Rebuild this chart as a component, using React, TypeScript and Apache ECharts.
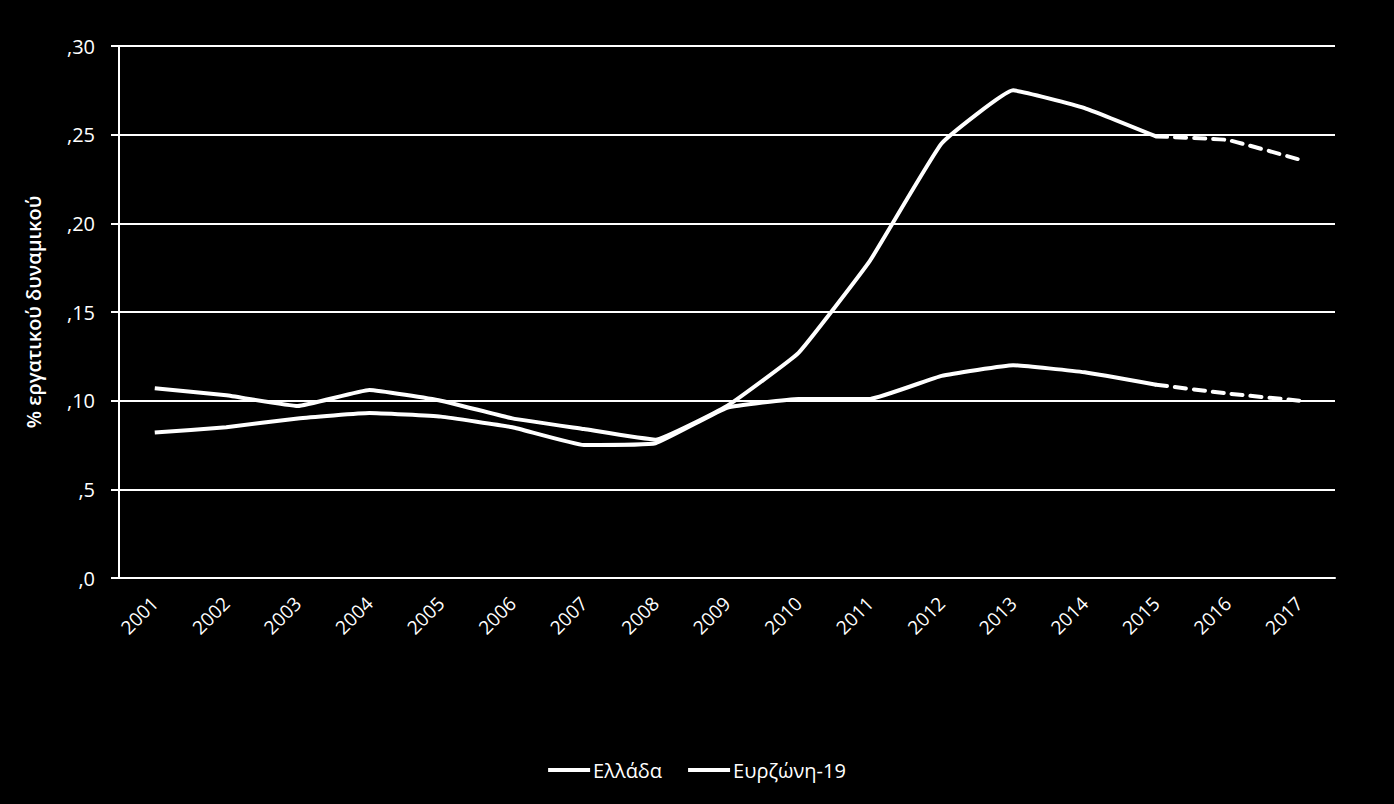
import React, { useEffect, useRef } from "react";
import * as echarts from "echarts";

const years = ["2001","2002","2003","2004","2005","2006","2007","2008","2009","2010","2011","2012","2013","2014","2015","2016","2017"];
const greece = [10.7, 10.3, 9.7, 10.6, 10.0, 9.0, 8.4, 7.8, 9.7, 12.7, 17.9, 24.5, 27.5, 26.5, 24.9, 24.7, 23.6];
const eurozone = [8.2, 8.5, 9.0, 9.3, 9.1, 8.5, 7.5, 7.6, 9.6, 10.1, 10.1, 11.4, 12.0, 11.6, 10.9, 10.4, 10.0];
const lastActualIndex = 14; // 2015: after this, forecasts (dashed)
const seriesNames = ["Ελλάδα", "Ευρζώνη-19"];
const yAxisTitle = "% εργατικού δυναμικού";

const FONT = "'Open Sans', 'Noto Sans', sans-serif";

function actual(arr: number[]) {
  return arr.map((v, i) => (i <= lastActualIndex ? v : null));
}
function forecast(arr: number[]) {
  return arr.map((v, i) => (i >= lastActualIndex ? v : null));
}

export default function App() {
  const ref = useRef<HTMLDivElement>(null);
  useEffect(() => {
    if (!ref.current) return;
    const chart = echarts.init(ref.current, undefined, { renderer: "svg" });
    const lineBase = { type: "line", smooth: 0.1, symbol: "none", connectNulls: false };
    chart.setOption({
      animation: false,
      backgroundColor: "#000000",
      textStyle: { fontFamily: FONT },
      grid: { left: 119, right: 59, top: 46, bottom: 226, containLabel: false },
      legend: {
        data: seriesNames.map((n) => ({ name: n, icon: "path://M0,0 L42,0 L42,4 L0,4 Z" })),
        bottom: 19,
        left: "center",
        itemWidth: 42,
        itemHeight: 5,
        itemGap: 26,
        textStyle: { color: "#ffffff", fontSize: 20, fontFamily: FONT, padding: [0, 0, 0, -2] },
      },
      xAxis: {
        type: "category",
        data: years,
        boundaryGap: true,
        axisLine: { show: true, lineStyle: { color: "#ffffff", width: 2 } },
        axisTick: { show: false },
        axisLabel: { color: "#ffffff", fontSize: 19, rotate: 45, margin: 22, fontFamily: FONT },
      },
      yAxis: {
        type: "value",
        min: 0,
        max: 30,
        interval: 5,
        name: yAxisTitle,
        nameLocation: "middle",
        nameGap: 76,
        nameRotate: 90,
        nameTextStyle: { color: "#ffffff", fontSize: 20, fontWeight: 600, fontFamily: FONT },
        axisLine: { show: true, lineStyle: { color: "#ffffff", width: 2 } },
        axisTick: { show: true, inside: false, length: 8, lineStyle: { color: "#ffffff", width: 2 } },
        splitLine: { show: true, lineStyle: { color: "#ffffff", width: 2 } },
        axisLabel: {
          color: "#ffffff",
          fontSize: 20,
          margin: 24,
          fontFamily: FONT,
          formatter: (v: number) => "," + v,
        },
      },
      series: [
        { ...lineBase, name: seriesNames[0], data: actual(greece), lineStyle: { color: "#ffffff", width: 4 }, itemStyle: { color: "#ffffff" } },
        { ...lineBase, name: seriesNames[1], data: actual(eurozone), lineStyle: { color: "#ffffff", width: 4 }, itemStyle: { color: "#ffffff" } },
        { ...lineBase, name: seriesNames[0] + " (πρόβλεψη)", data: forecast(greece), lineStyle: { color: "#ffffff", width: 4, type: [11, 8], cap: "round" }, itemStyle: { color: "#ffffff" } },
        { ...lineBase, name: seriesNames[1] + " (πρόβλεψη)", data: forecast(eurozone), lineStyle: { color: "#ffffff", width: 4, type: [11, 8], cap: "round" }, itemStyle: { color: "#ffffff" } },
      ],
    });
    return () => chart.dispose();
  }, []);
  return <div ref={ref} style={{ width: 1394, height: 804, position: "absolute", left: 0, top: 0, background: "#000" }} />;
}
